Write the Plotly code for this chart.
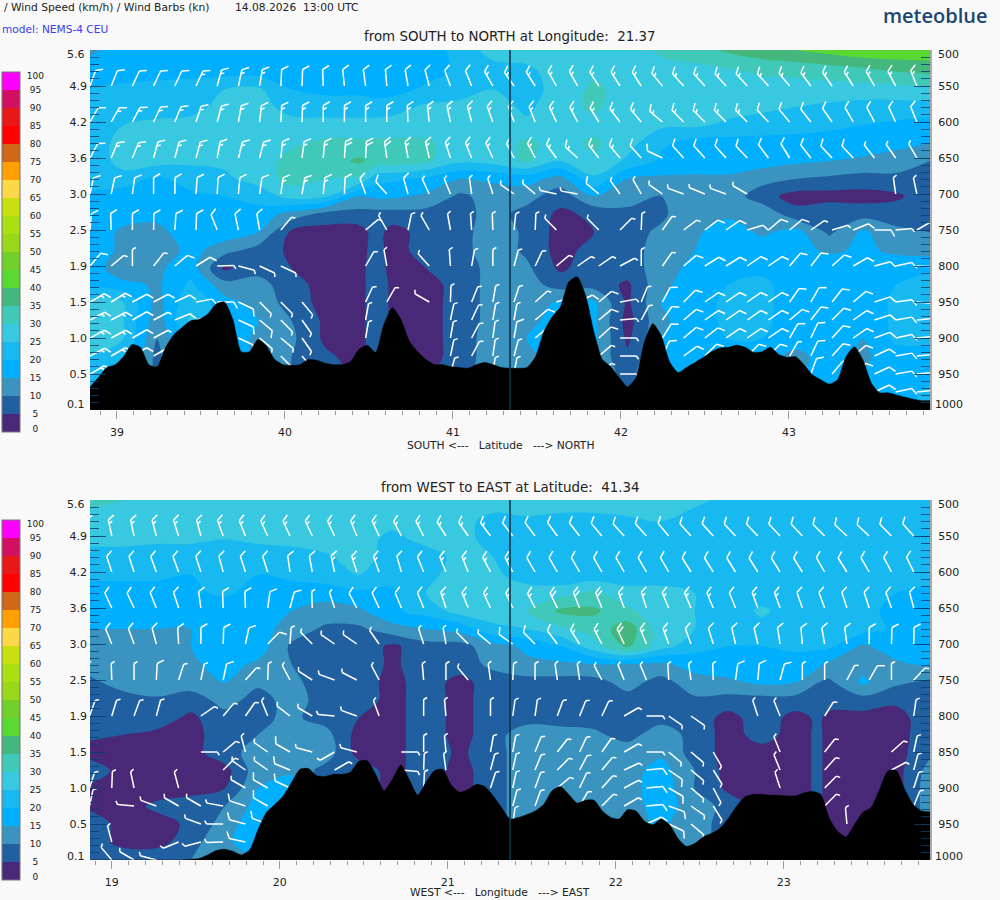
import numpy as np
import plotly.graph_objects as go

N = None

# y axis: pressure (hPa) on the right, height (km) on the left
pressure_ticks = [500, 550, 600, 650, 700, 750, 800, 850, 900, 950, 1000]
height_labels = ['', '4.9', '4.2', '3.6', '3.0', '2.5', '1.9', '1.5', '1.0', '0.5', '']
pressure_labels_top = ['', '550', '600', '650', '700', '750', '800', '950', '900', '950', '']
pressure_labels_bottom = ['', '550', '600', '650', '700', '750', '800', '850', '900', '950', '']
levels = [500, 530, 555, 579, 604, 629, 654, 679, 703, 728, 753, 778, 803, 826, 851, 876,
          901, 926, 950, 975, 1000]

lat_range = [38.84, 43.84]
lon_range = [18.87, 23.87]
lat_ticks = [39, 40, 41, 42, 43]
lon_ticks = [19, 20, 21, 22, 23]
section_lat = 41.34
section_lon = 21.37

# wind speed, km/h, one row per level
speed_top = [
    [14, 17, 17, 17, 17, 17, 17, 17, 17, 17, 17, 22, 27, 27, 27, 27, 27, 31, 33, 36, 38, 40, 42, 44, 44, 44],
    [18, 18, 18, 18, 18, 18, 18, 18, 18, 18, 18, 21, 23, 24, 27, 29, 28, 28, 28, 29, 31, 31, 32, 33, 35, 36],
    [20, 21, 22, 23, 25, 26, 20, 19, 19, 18, 21, 22, 25, 23, 27, 31, 28, 27, 27, 27, 27, 28, 28, 28, 28, 29],
    [20, 21, 23, 24, 26, 26, 24, 22, 22, 23, 26, 27, 27, 24, 28, 31, 27, 27, 27, 27, 26, 25, 24, 23, 23, 23],
    [23, 25, 26, 26, 26, 26, 26, 27, 27, 27, 27, 27, 27, 26, 30, 28, 27, 26, 26, 24, 23, 22, 21, 20, 19, 18],
    [22, 27, 27, 27, 27, 28, 29, 31, 31, 31, 31, 27, 27, 31, 28, 31, 27, 21, 18, 18, 18, 18, 18, 18, 17, 15],
    [20, 28, 27, 26, 26, 27, 32, 32, 36, 33, 31, 26, 27, 31, 25, 29, 24, 19, 18, 18, 17, 16, 15, 14, 12, 10],
    [22, 22, 19, 22, 24, 27, 32, 30, 29, 21, 19, 15, 16, 17, 13, 24, 15, 14, 14, 14, 12, 10, 9, 8, 9, 9],
    [19, 18, 18, 19, 20, 22, 27, 26, 15, 16, 14, 9, 12, 12, 7, 15, 13, 10, 13, 13, 7, 3, 3, 3, 4, 8],
    [18, 17, 16, 17, 18, 18, 13, 8, 8, 8, 8, 8, 12, 8, 4, 6, 8, 9, 14, 14, 14, 7, 9, 8, 8, 7],
    [18, 14, 14, 17, 18, 15, 4, 3, 3, 3, 7, 8, 13, 9, 3, 5, 8, 11, 14, 18, 14, 17, 9, 16, 11, 10],
    [20, 13, 11, 17, 12, 8, 4, 3, 3, 3, 7, 8, 13, 9, 3, 7, 8, 12, 15, 18, 18, 17, 14, 16, 14, 13],
    [19, 10, 14, 18, 4, 8, 5, 3, 3, 3, 5, 7, 12, 11, 4, 8, 8, 12, 17, 18, 19, 19, 19, 18, 18, 19],
    [19, 17, 14, 21, 12, 12, 7, 3, 3, 4, 3, 7, 12, 12, 8, 8, 4, 14, 17, 20, 21, 18, 17, 17, 20, 22],
    [27, 25, 13, 24, 17, 13, 8, 3, 3, 4, 3, 7, 12, 12, 16, 16, 4, 15, 18, 21, 21, 18, 17, 17, 21, 22],
    [28, 25, 12, 26, 18, 15, 10, 4, 3, 4, 3, 7, 12, 13, 18, 16, 3, 14, 18, 21, 21, 18, 17, 17, 21, 22],
    [26, 25, 10, 23, 18, 14, 11, 4, 3, 4, 3, 7, 13, 15, 18, 16, 4, 15, 18, 20, 20, 18, 17, 15, 21, 21],
    [25, 24, 8, 23, 18, 14, 10, 6, 3, 4, 3, 7, 13, 14, 17, 14, 6, 16, 18, 18, 18, 13, 18, 14, 18, 18],
    [24, 24, 8, 20, 18, 14, 10, 7, 4, 4, 4, 8, 13, 14, 16, 14, 8, 16, 18, 18, 18, 14, 18, 15, 18, 18],
    [24, 24, 8, 20, 18, 14, 10, 7, 4, 4, 4, 8, 13, 14, 16, 14, 8, 16, 18, 18, 18, 14, 18, 15, 18, 21],
    [24, 24, 8, 20, 18, 14, 10, 7, 4, 4, 4, 8, 13, 14, 16, 14, 8, 16, 18, 18, 18, 14, 18, 15, 18, 21],
]
# extra column where the purple areas are split by a narrow gap
extra_lat = 40.542
extra_col_top = [17, 18, 18, 22, 27, 31, 33, 22, 16, 8, 7, 7, 8, 8, 8, 8, 8, 8, 8, 8, 8]

speed_bottom = [
    [32, 30, 28, 28, 28, 28, 28, 28, 28, 28, 28, 28, 28, 28, 28, 28, 28, 27, 26, 24, 24, 23, 23, 23, 23, 23],
    [27, 27, 27, 27, 27, 27, 27, 27, 27, 27, 27, 27, 23, 24, 23, 23, 24, 25, 23, 22, 22, 22, 22, 22, 22, 22],
    [27, 27, 26, 26, 25, 26, 27, 28, 28, 23, 27, 27, 23, 22, 22, 22, 22, 22, 22, 22, 22, 22, 22, 22, 22, 22],
    [22, 22, 22, 22, 22, 22, 22, 24, 28, 22, 22, 27, 25, 22, 22, 22, 22, 22, 22, 22, 22, 22, 22, 22, 22, 22],
    [21, 21, 21, 20, 21, 20, 21, 23, 25, 22, 23, 28, 26, 23, 21, 22, 22, 22, 22, 22, 22, 22, 22, 22, 22, 22],
    [18, 18, 18, 19, 21, 18, 18, 17, 19, 19, 25, 27, 27, 27, 28, 31, 27, 27, 25, 22, 22, 22, 23, 22, 20, 19],
    [17, 17, 17, 17, 16, 17, 15, 13, 14, 19, 22, 27, 27, 30, 36, 36, 31, 27, 25, 22, 26, 22, 22, 21, 19, 19],
    [15, 15, 15, 15, 18, 17, 13, 9, 9, 13, 15, 17, 24, 25, 29, 32, 38, 27, 25, 22, 23, 22, 22, 22, 19, 16],
    [15, 15, 15, 15, 17, 18, 9, 8, 8, 4, 8, 8, 13, 16, 20, 28, 36, 27, 22, 20, 20, 21, 21, 14, 18, 17],
    [12, 14, 14, 14, 17, 14, 10, 8, 8, 4, 8, 8, 11, 14, 14, 15, 15, 14, 17, 18, 18, 18, 14, 13, 14, 16],
    [9, 12, 14, 13, 15, 11, 11, 8, 8, 3, 8, 3, 8, 8, 8, 8, 12, 8, 13, 14, 16, 15, 9, 16, 11, 9],
    [8, 8, 9, 7, 12, 8, 12, 8, 8, 3, 8, 3, 8, 8, 8, 8, 8, 8, 9, 8, 8, 8, 8, 8, 6, 8],
    [8, 8, 7, 4, 8, 9, 11, 8, 5, 3, 8, 3, 8, 8, 8, 8, 8, 8, 8, 3, 8, 3, 3, 3, 3, 8],
    [6, 5, 4, 3, 8, 10, 13, 12, 3, 3, 8, 3, 8, 13, 12, 11, 8, 13, 8, 3, 7, 3, 3, 3, 3, 8],
    [3, 3, 3, 3, 8, 12, 15, 13, 3, 3, 8, 4, 8, 13, 12, 13, 13, 14, 8, 3, 3, 3, 3, 3, 3, 9],
    [8, 3, 3, 3, 3, 13, 14, 8, 8, 3, 8, 3, 8, 13, 13, 13, 13, 17, 10, 3, 3, 3, 3, 3, 3, 12],
    [4, 3, 3, 3, 5, 15, 18, 10, 8, 3, 8, 3, 8, 13, 13, 13, 13, 18, 10, 4, 3, 3, 3, 3, 3, 13],
    [4, 3, 6, 8, 10, 17, 16, 10, 8, 3, 8, 3, 8, 13, 13, 13, 13, 17, 13, 8, 3, 3, 3, 3, 3, 13],
    [8, 3, 3, 6, 12, 19, 16, 10, 8, 3, 8, 3, 8, 13, 13, 13, 13, 16, 12, 8, 3, 3, 3, 3, 3, 13],
    [8, 3, 3, 8, 14, 18, 15, 10, 8, 3, 8, 3, 8, 13, 13, 13, 13, 16, 12, 8, 3, 3, 3, 3, 3, 13],
    [9, 9, 9, 10, 13, 14, 15, 10, 8, 3, 8, 3, 8, 13, 13, 13, 13, 16, 12, 8, 3, 3, 3, 3, 3, 13],
]
extra_lon = 23.209
extra_col_bottom = [23, 22, 22, 22, 22, 23, 22, 22, 21, 16, 10, 8, 6, 6, 6, 6, 6, 6, 6, 6, 6]

# ground surface pressure (hPa), evenly spaced along each section
terrain_top = [968, 955, 941, 937, 926, 909, 913, 937, 940, 913, 895, 885, 876, 874, 867, 853, 850,
               874, 919, 919, 902, 911, 930, 937, 938, 937, 930, 931, 935, 937, 937, 933, 916, 910,
               920, 881, 858, 874, 904, 919, 930, 937, 937, 940, 941, 942, 937, 934, 937, 941, 942,
               942, 941, 927, 892, 871, 857, 822, 815, 841, 892, 930, 940, 955, 968, 955, 906, 880,
               897, 933, 948, 941, 934, 927, 919, 914, 913, 910, 913, 920, 919, 913, 923, 927, 926,
               937, 951, 958, 964, 958, 926, 912, 930, 962, 976, 976, 979, 982, 985, 987, 987]

terrain_bottom = [1000, 1000, 1000, 1000, 1000, 1000, 1000, 1000, 1000, 1000, 1000, 1000, 999, 998,
                  993, 987, 985, 988, 993, 986, 958, 934, 923, 911, 892, 874, 873, 883, 884, 881,
                  881, 878, 863, 862, 881, 904, 888, 868, 888, 910, 892, 876, 874, 896, 906, 902,
                  895, 898, 911, 927, 943, 941, 937, 932, 923, 904, 898, 909, 921, 917, 917, 932,
                  941, 943, 930, 932, 946, 951, 943, 951, 970, 981, 977, 968, 963, 956, 942, 925,
                  912, 909, 909, 910, 910, 911, 911, 907, 905, 909, 942, 960, 968, 951, 934, 927,
                  902, 876, 876, 902, 923, 932, 933]

# barb direction, degrees clockwise from up; None where no barb is drawn
barb_levels_top = [550, 600, 650, 700, 750, 800, 850, 875, 900, 925, 950, 975]
barb_dirs_top = [
    [20, 22, 25, 25, 25, 25, 15, 12, 9, 3, 2, -2, -6, -8, -5, -10, -15, -20, -22, -30, -35, -33, -30, -30, -33, -33, -33, -40, -42, -42, -42, -42, -42, -40, -37, -35, -33, -30, -28, -22],
    [30, 30, 28, 25, 22, 18, 15, 10, 6, 3, 2, 0, 0, 0, 0, -3, -6, -12, -15, -20, -20, -22, -25, -28, -32, -38, -40, -50, -45, -45, -45, -45, -43, -40, -38, -35, -30, -28, -25, -22],
    [28, 22, 22, 15, 15, 15, 10, 14, 14, 6, 7, 5, 4, 3, -8, -10, -13, -18, -22, -25, -27, -28, -37, -48, -38, -40, -42, -65, -42, -42, -42, -43, -37, -32, -38, -43, -43, -38, -35, -30],
    [12, 12, 8, 0, 1, 4, 3, 5, 8, 8, 10, 6, 2, -20, -42, -16, -25, -22, -8, -18, -55, -50, -78, -80, -50, -36, -30, -55, -70, -68, -70, -60, N, N, N, N, N, N, -8, -12],
    [5, -2, 0, 1, 4, 2, -22, -12, -10, 40, N, N, N, 50, -30, 12, -30, -10, -4, -2, 6, 2, -45, N, -45, 45, 2, 35, 53, 53, 55, 73, 50, 50, 55, 73, 68, 90, 85, 60],
    [40, 50, 0, 38, 50, 58, 88, 105, 115, 115, N, N, N, 30, -10, N, -42, -4, 10, 0, 15, 25, 50, 55, 55, 62, 0, 35, 50, 58, 58, 55, 55, 40, 38, 48, 60, 75, 78, 92],
    [60, 58, 62, 62, 65, 80, 90, 115, 135, 135, 140, N, N, 25, 30, N, -60, 2, 22, 10, 18, 48, 72, 65, 50, 80, 22, 28, 45, 55, 55, 55, 55, 35, 30, 38, 50, 72, 82, 95],
    [62, 62, 60, 62, 68, 75, N, 115, 130, 135, 145, N, N, 10, N, N, N, 12, 25, 10, 10, 50, N, N, 50, 85, 28, 35, 50, 55, 55, 55, 55, 50, 38, 45, 55, 72, 80, 85],
    [62, 62, 60, 62, N, N, N, 115, 130, 130, 145, N, N, 10, N, N, N, 10, 28, 8, 10, 50, N, N, 48, 90, N, 32, 50, 52, 55, 55, 55, 30, 25, 42, 55, 70, 78, 85],
    [62, 60, 60, 60, N, N, N, N, N, 135, 140, N, N, N, N, N, N, 12, 28, 8, 15, N, N, N, 50, 90, N, 25, 54, 45, N, 45, 45, 30, 25, 42, 50, 65, 80, 85],
    [60, N, N, N, N, N, N, N, N, N, N, N, N, N, N, N, N, 15, N, 8, 10, N, N, N, 50, 90, N, N, 45, N, N, N, N, N, 20, 40, 50, 65, 80, 85],
    [N, N, N, N, N, N, N, N, N, N, N, N, N, N, N, N, N, N, N, N, N, N, N, N, N, N, N, N, N, N, N, N, N, N, N, N, N, 65, 78, 85],
]

barb_levels_bottom = [550, 600, 650, 700, 750, 800, 850, 875, 900, 925, 950, 975, 1000]
barb_dirs_bottom = [
    [-10, -12, -12, -15, -18, -15, -20, -22, -25, -25, -25, -25, -22, -25, -28, -28, -32, -35, -37, -38, -37, -36, -38, -40, -42, -42, -40, -42, -42, -43, -43, -43, -43, -45, -47, -47, -45, -42],
    [-15, -18, -18, -20, -20, -18, -15, -18, -18, -8, -10, -12, -18, -20, -16, -22, -22, -22, -28, -28, -30, -30, -30, -30, -30, -30, -30, -32, -32, -32, -32, -32, -32, -30, -32, -30, -28, -26],
    [-20, -25, -25, -22, -18, -8, -2, -2, 8, 15, -2, -18, -28, -25, -22, -22, -18, -22, -25, -25, -27, -26, -22, -22, -20, -18, -23, -23, -23, -22, -20, -20, -19, -20, -18, -18, -20, -15],
    [-15, -22, -20, -15, -3, 0, 2, 12, 45, 4, -45, -55, -55, -35, N, -18, -10, -45, -50, -55, -45, -37, -33, -28, -25, -22, -20, -20, -17, -13, -13, -9, -5, -10, -8, 0, 2, 1],
    [-5, -2, 0, 3, 18, 12, 12, 42, 2, -28, -57, -70, -63, -28, N, -5, 0, -40, -8, 3, 0, -8, -8, -28, -22, -22, -3, -8, -2, 8, 5, 15, 0, 0, 28, 30, 0, 43],
    [20, 17, 20, 15, N, 55, 40, 35, -22, -52, -60, -85, -70, -20, N, 0, -5, N, 0, 8, 8, 20, 22, 25, 60, 90, 125, 125, N, N, -18, -22, N, 32, N, N, N, 8],
    [N, N, N, N, N, 90, 50, -15, -55, -60, -75, -120, -75, N, 90, 0, -5, N, 10, 10, 22, 38, 25, 35, 60, 90, 130, 130, 150, N, N, -22, N, 38, N, N, 48, 12],
    [N, N, N, N, N, N, 45, -55, -55, -68, N, 60, N, N, 95, 2, -8, N, 15, 12, 22, 45, 28, 40, 65, 85, 125, 130, 148, N, N, -22, N, 42, N, N, 62, 15],
    [18, 2, -12, N, -15, N, N, -60, -60, -65, N, N, N, N, N, 3, N, N, 18, 12, 20, 50, 25, 42, 62, 85, 120, 130, 152, N, N, -18, N, 45, N, N, N, 18],
    [12, N, -85, -70, -60, -60, -80, -72, -60, N, N, N, N, N, N, N, N, N, N, 15, 20, N, 30, 45, 60, 85, 110, 125, 148, N, N, N, N, 45, N, N, N, 22],
    [N, N, N, N, N, -70, -90, -75, -70, N, N, N, N, N, N, N, N, N, N, 8, N, N, N, N, N, 65, 115, 130, N, N, N, N, N, N, -5, 35, N, N],
    [N, -15, N, N, -112, -105, -92, -78, N, N, N, N, N, N, N, N, N, N, N, N, N, N, N, N, N, N, N, N, N, N, N, N, N, N, N, N, N, N],
    [N, -40, -60, -75, N, N, N, N, N, N, N, N, N, N, N, N, N, N, N, N, N, N, N, N, N, N, N, N, N, N, N, N, N, N, N, N, N, N],
]

# colours of the 5 km/h bins, 0-5 up to 95-100
bin_colors = ['#4a2878', '#2060a0', '#3a94bf', '#00b0ff', '#18b8f0', '#38c8e0', '#40c8b8',
              '#44b87c', '#58d830', '#70d028', '#98d818', '#a8e010', '#c8e010', '#ffd848',
              '#ffa000', '#d06818', '#ff0000', '#e81818', '#d01060', '#ff00ff']
bar_ticks = [1] + list(range(5, 100, 5)) + [99]
bar_labels = ['100' if v == 99 else '0' if v == 1 else str(v) for v in bar_ticks]
# pad with no-break spaces so the labels sit centred in the column
bar_labels = ['\u00a0' * 2 + s if len(s) == 1 else '\u00a0' + s if len(s) == 2 else s for s in bar_labels]

FONT = 'DejaVu Sans'
W, H = 1000, 900
PLOT_L, PLOT_R = 90, 930
px_per_deg = (PLOT_R - PLOT_L) / 5
px_per_hpa = 360 / 500

# contour colour map runs from -cs/2 to end+cs/2, so stops are placed in that frame
colorscale = []
for i, c in enumerate(bin_colors):
    colorscale.append([(i * 5 + 2.5) / 105, c])
    colorscale.append([((i + 1) * 5 + 2.5) / 105, c])
colorscale = [[0, bin_colors[0]]] + colorscale + [[1, bin_colors[-1]]]


def barb_lines(first, step, barb_levels, dirs, grid, grid_x):
    xs, ys = [], []

    def seg(x0, p0, az, length):
        a = np.radians(az)
        x1 = x0 + length * np.sin(a) / px_per_deg
        p1 = p0 - length * np.cos(a) / px_per_hpa
        xs.extend([x0, x1, None])
        ys.extend([p0, p1, None])
        return x1, p1

    for lev, row in zip(barb_levels, dirs):
        speeds = grid[int(np.argmin(np.abs(np.array(levels) - lev)))]
        for k, az in enumerate(row):
            if az is None:
                continue
            x = first + step * k
            knots = max(5, 5 * round(np.interp(x, grid_x, speeds) / 1.852 / 5))
            xt, pt = seg(x, lev, az, 16.5)
            # feathers walk back from the tip of the shaft
            along = 0
            a = np.radians(az)
            while knots > 0:
                bx = xt - along * np.sin(a) / px_per_deg
                bp = pt + along * np.cos(a) / px_per_hpa
                seg(bx, bp, az + 60, 7.5 if knots >= 10 else 4)
                knots -= 10 if knots >= 10 else 5
                along += 4
    return xs, ys


def add_panel(fig, n, x_range, grid, extra_x, extra_col, terrain, first, step, barb_levels, dirs, section, bar_top):
    xa = 'x' if n == 0 else 'x2'
    ya = 'y' if n == 0 else 'y3'
    ya_right = 'y2' if n == 0 else 'y4'
    grid_x = np.linspace(x_range[0], x_range[1], len(grid[0]))
    at = int(np.searchsorted(grid_x, extra_x))
    grid_x = np.insert(grid_x, at, extra_x)
    grid = np.insert(np.array(grid, dtype=float), at, extra_col, axis=1)
    fig.add_trace(go.Contour(
        x=grid_x, y=levels, z=grid, xaxis=xa, yaxis=ya,
        autocontour=False, zmin=0, zmax=100,
        contours=dict(start=0, end=100, size=5, coloring='fill', showlines=False),
        line_width=0, colorscale=colorscale, hoverinfo='skip',
        colorbar=dict(
            x=2 / W, xanchor='left', xpad=0, ypad=0,
            y=1 - (bar_top + 360) / H, yanchor='bottom',
            len=360, lenmode='pixels', thickness=18, thicknessmode='pixels',
            tickmode='array', tickvals=bar_ticks, ticktext=bar_labels,
            ticks='outside', ticklen=5, tickcolor='rgba(0,0,0,0)',
            tickfont=dict(family=FONT, size=9, color='#222222'),
            outlinecolor='#777777', outlinewidth=1,
        ),
    ))
    bx, by = barb_lines(first, step, barb_levels, dirs, grid, grid_x)
    fig.add_trace(go.Scatter(x=bx, y=by, xaxis=xa, yaxis=ya, mode='lines',
                             line=dict(color='white', width=1.5), hoverinfo='skip'))
    tx = np.linspace(x_range[0], x_range[1], len(terrain))
    fig.add_trace(go.Scatter(x=tx, y=[1000] * len(terrain), xaxis=xa, yaxis=ya, mode='lines',
                             line=dict(color='black', width=0), hoverinfo='skip'))
    fig.add_trace(go.Scatter(x=tx, y=terrain, xaxis=xa, yaxis=ya, mode='lines', fill='tonexty',
                             fillcolor='black', line=dict(color='black', width=0.5, shape='spline', smoothing=0.6),
                             hoverinfo='skip'))
    fig.add_trace(go.Scatter(x=[section, section], y=[500, 1000], xaxis=xa, yaxis=ya_right, mode='lines',
                             line=dict(color='#0b3550', width=1.6), hoverinfo='skip'))


fig = go.Figure()
add_panel(fig, 0, lat_range, speed_top, extra_lat, extra_col_top, terrain_top, 38.84, 0.1262,
          barb_levels_top, barb_dirs_top, section_lat, 72)
add_panel(fig, 1, lon_range, speed_bottom, extra_lon, extra_col_bottom, terrain_bottom, 18.867, 0.1326,
          barb_levels_bottom, barb_dirs_bottom, section_lon, 520)


def y_axis(domain, labels, side, overlay=None, anchor='x'):
    ax = dict(
        domain=domain, range=[1000, 500], anchor=anchor, side=side,
        tickmode='array', tickvals=pressure_ticks, ticktext=labels,
        ticks='inside', ticklen=16, tickwidth=1, tickcolor='rgba(10,60,110,0.8)',
        minor=dict(ticks='inside', ticklen=9, dtick=10, tick0=500, tickwidth=1,
                   tickcolor='rgba(10,60,110,0.8)'),
        tickfont=dict(family=FONT, size=11, color='#222222'),
        ticklabelstandoff=4 if overlay else 2,
        showgrid=False, zeroline=False,
    )
    if overlay:
        ax['overlaying'] = overlay
        ax['showline'] = True
        ax['linecolor'] = '#aaaaaa'
        ax['linewidth'] = 2
    else:
        ax['showline'] = False
    return ax


def x_axis(rng, ticks, anchor):
    return dict(
        domain=[PLOT_L / W, PLOT_R / W], range=rng, anchor=anchor,
        tickmode='array', tickvals=ticks, ticks='outside', ticklen=8, tickwidth=1, tickcolor='#999999',
        minor=dict(ticks='outside', ticklen=4, dtick=0.1, tick0=rng[0] - rng[0] % 1, tickwidth=1,
                   tickcolor='#999999'),
        tickfont=dict(family=FONT, size=11, color='#222222'), ticklabelstandoff=4,
        showgrid=False, zeroline=False, showline=False,
    )


def text(x, y, s, size=11, color='#222222', anchor='left', family=FONT, weight=None):
    f = dict(family=family, size=size, color=color)
    if weight:
        f['weight'] = weight
    return dict(xref='paper', yref='paper', x=x / W, y=1 - y / H, text=s, showarrow=False,
                xanchor=anchor, yanchor='middle', font=f)


nb = '\u00a0'
annotations = [
    text(2, 8, '/ Wind Speed (km/h) / Wind Barbs (kn)', 10.7),
    text(233, 8, f'14.08.2026{nb}{nb}13:00 UTC', 10.7),
    text(0, 29, 'model: NEMS-4 CEU', 10.6, color='#3a3af0'),
    text(990, 15, 'meteoblue', 20, color='#1c4672', anchor='right', family='Open Sans', weight=600),
    text(510, 37, f'from SOUTH to NORTH at Longitude:{nb}{nb}21.37', 13.4, anchor='center'),
    text(510, 487, f'from WEST to EAST at Latitude:{nb}{nb}41.34', 13.4, anchor='center'),
    text(500, 445, f'SOUTH{nb}<---{nb}{nb}{nb}Latitude{nb}{nb}{nb}--->{nb}NORTH', 10.7, anchor='center'),
    text(500, 892, f'WEST{nb}<---{nb}{nb}{nb}Longitude{nb}{nb}{nb}--->{nb}EAST', 10.7, anchor='center'),
    text(87, 54, '5.6', 11, anchor='right'),
    text(87, 504, '5.6', 11, anchor='right'),
    text(87, 405, '0.1', 11, anchor='right'),
    text(87, 856, '0.1', 11, anchor='right'),
    text(936, 54, '500', 11),
    text(936, 504, '500', 11),
    text(933, 405, '1000', 11),
    text(933, 856, '1000', 11),
]

fig.update_layout(
    width=W, height=H, margin=dict(l=0, r=0, t=0, b=0),
    paper_bgcolor='#f9f9f9', plot_bgcolor='#f9f9f9',
    showlegend=False, hovermode=False,
    annotations=annotations,
    xaxis=x_axis(lat_range, lat_ticks, 'y'),
    xaxis2=x_axis(lon_range, lon_ticks, 'y3'),
    yaxis=y_axis([490 / H, 850 / H], height_labels, 'left'),
    yaxis2=y_axis([490 / H, 850 / H], pressure_labels_top, 'right', overlay='y'),
    yaxis3=y_axis([40 / H, 400 / H], height_labels, 'left', anchor='x2'),
    yaxis4=y_axis([40 / H, 400 / H], pressure_labels_bottom, 'right', overlay='y3', anchor='x2'),
)

fig.write_html('out.html', config=dict(displayModeBar=False),
               post_script="document.body.style.margin='0';")
